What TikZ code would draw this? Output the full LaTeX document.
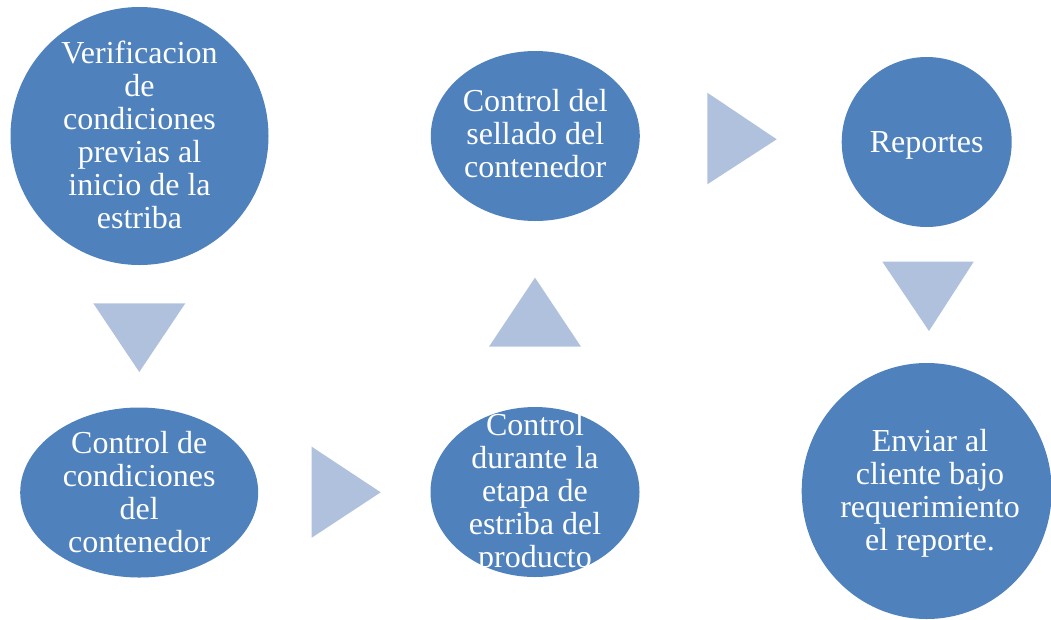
\documentclass[tikz,border=0pt]{standalone}
\usepackage{fontspec}
\setmainfont{Liberation Serif}
\usetikzlibrary{shapes.geometric}

\definecolor{stepblue}{RGB}{79,129,189}
\definecolor{arrowblue}{RGB}{176,193,221}

\tikzset{
  blob/.style={ellipse, fill=stepblue, draw=none, inner sep=0pt},
  blobtext/.style={text=white, align=center, inner sep=0pt,
                   font=\fontsize{32}{33}\selectfont},
  flowtri/.style={fill=arrowblue, draw=none}
}

\begin{document}
\begin{tikzpicture}[x=1pt,y=-1pt]
\useasboundingbox (0,0) rectangle (1051,619);

% process steps
\node[blob, minimum width=258pt, minimum height=258pt] (verif) at (139.5,136) {};
\node[blob, minimum width=238pt, minimum height=170pt] (cond)  at (139.2,492.5) {};
\node[blob, minimum width=209pt, minimum height=170pt] (durante) at (535,492) {};
\node[blob, minimum width=209pt, minimum height=170pt] (sellado) at (535.3,136) {};
\node[blob, minimum width=170pt, minimum height=170pt] (report) at (926.7,142) {};
\node[blob, minimum width=250pt, minimum height=256pt] (enviar) at (926.7,491) {};

% step labels
\node[blobtext] (verif-t) at (139.5,135) {Verificacion\\de\\condiciones\\previas al\\inicio de la\\estriba};
\node[blobtext] (cond-t) at (139.2,492) {Control de\\condiciones\\del\\contenedor};
\begin{scope}
  \clip (420,395) rectangle (660,568.3);
  \node[blobtext] (durante-t) at (535,493.5) {Control\\durante la\\etapa de\\estriba del\\producto};
\end{scope}
\node[blobtext] (sellado-t) at (535.3,133.8) {Control del\\sellado del\\contenedor};
\node[blobtext] (report-t) at (926.7,145.5) {Reportes};
\node[blobtext] (enviar-t) at (930,493.7) {Enviar al\\cliente bajo\\requerimiento\\el reporte.};

% flow arrows
\fill[flowtri] (93.3,303.3) -- (185.3,303.3) -- (139.3,372) -- cycle;
\fill[flowtri] (311.7,446.7) -- (380.7,492.3) -- (311.7,537.7) -- cycle;
\fill[flowtri] (489,346.7) -- (581,346.7) -- (535,277.7) -- cycle;
\fill[flowtri] (707.3,92.7) -- (776.7,139.3) -- (707.3,184.3) -- cycle;
\fill[flowtri] (882.3,261.7) -- (973.7,261.7) -- (929,331) -- cycle;
\end{tikzpicture}
\end{document}
